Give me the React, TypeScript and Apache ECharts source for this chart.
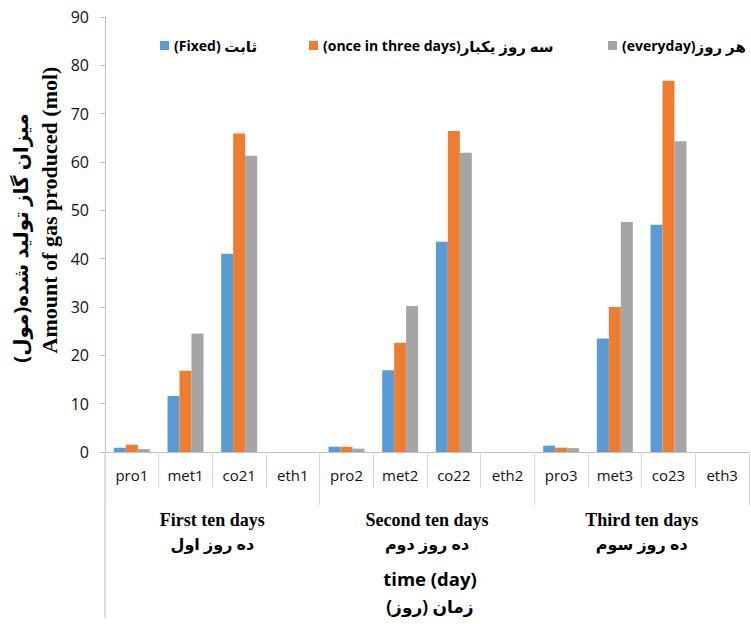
import React, { useEffect, useRef } from "react";
import * as echarts from "echarts";

const categories = ["pro1", "met1", "co21", "eth1", "pro2", "met2", "co22", "eth2", "pro3", "met3", "co23", "eth3"];
const groupLabelsEn = ["First ten days", "Second ten days", "Third ten days"];
const groupLabelsFa = ["ده روز اول", "ده روز دوم", "ده روز سوم"];
const seriesNamesEn = ["(Fixed) ", "(once in three days)", "(everyday)"];
const seriesNamesFa = ["ثابت", "سه روز یکبار", "هر روز"];
const fixedValues = [0.9, 11.6, 41.0, 0, 1.1, 16.9, 43.5, 0, 1.3, 23.5, 47.0, 0];
const onceInThreeDaysValues = [1.5, 16.8, 65.9, 0, 1.1, 22.6, 66.4, 0, 0.9, 30.0, 76.8, 0];
const everydayValues = [0.6, 24.5, 61.3, 0, 0.7, 30.2, 61.9, 0, 0.8, 47.6, 64.3, 0];
const yTicks = { min: 0, max: 90, interval: 10 };

const colors = ["#5B9BD5", "#ED7D31", "#A5A5A5"];
const SANS = "'Open Sans', 'DejaVu Sans', sans-serif";
const SERIF = "'Liberation Serif', 'DejaVu Serif', serif";

export default function App() {
  const ref = useRef<HTMLDivElement>(null);
  useEffect(() => {
    document.body.style.margin = "0";
    if (!ref.current) return;
    const chart = echarts.init(ref.current, undefined, { renderer: "svg" });
    const gridLeft = 105;
    const gridTop = 17;
    const gridBottomY = 452;
    const values = [fixedValues, onceInThreeDaysValues, everydayValues];
    const seriesNames = seriesNamesEn.map((e, i) => e + "|" + seriesNamesFa[i]);
    const legendLefts = [155, 304, 603];
    chart.setOption({
      animation: false,
      backgroundColor: "#ffffff",
      color: colors,
      grid: {
        left: gridLeft,
        top: gridTop,
        right: 2,
        bottom: 624 - gridBottomY,
        outerBoundsMode: "none",
        containLabel: false,
      },
      legend: seriesNames.map((n, i) => ({
        data: [n],
        left: legendLefts[i],
        top: 33,
        icon: "rect",
        itemWidth: 9,
        itemHeight: 9,
        itemGap: 5,
        selectedMode: false,
        formatter: (v: string) => {
          const [en, fa] = v.split("|");
          return "{en|" + en + "}{fa|" + fa + "}";
        },
        textStyle: {
          fontFamily: SANS,
          fontWeight: "bold",
          fontSize: 15,
          color: "#000",
          rich: {
            en: { fontFamily: SANS, fontWeight: "bold", fontSize: 14, color: "#000" },
            fa: { fontFamily: SANS, fontWeight: "bold", fontSize: 15, color: "#000" },
          },
        },
      })),
      xAxis: [
        {
          type: "category",
          data: categories,
          position: "bottom",
          axisLine: { show: true, lineStyle: { color: "#bfbfbf", width: 1 } },
          axisTick: { show: true, interval: 0, length: 36, lineStyle: { color: "#d9d9d9" } },
          axisLabel: { interval: 0, margin: 15, fontFamily: SANS, fontSize: 15, color: "#111" },
          splitLine: { show: false },
        },
        {
          type: "category",
          data: groupLabelsEn.map((e, i) => e + "|" + groupLabelsFa[i]),
          position: "bottom",
          axisLine: { show: false },
          axisTick: { show: true, interval: 0, length: 53, lineStyle: { color: "#d9d9d9" } },
          axisLabel: {
            interval: 0,
            margin: 56,
            formatter: (v: string) => {
              const [en, fa] = v.split("|");
              return "{en|" + en + "}\n{fa|" + fa + "}";
            },
            rich: {
              en: { fontFamily: SERIF, fontWeight: "bold", fontSize: 18, color: "#000", lineHeight: 24 },
              fa: { fontFamily: SANS, fontWeight: "bold", fontSize: 16, color: "#000", lineHeight: 24 },
            },
          },
          splitLine: { show: false },
        },
      ],
      yAxis: {
        type: "value",
        min: yTicks.min,
        max: yTicks.max,
        interval: yTicks.interval,
        axisLine: { show: true, lineStyle: { color: "#bfbfbf" } },
        axisTick: { show: true, length: 5, lineStyle: { color: "#bfbfbf" } },
        axisLabel: { margin: 16, fontFamily: SANS, fontSize: 16, color: "#111" },
        splitLine: { show: false },
      },
      series: seriesNames.map((n, i) => ({
        name: n,
        type: "bar",
        data: values[i],
        xAxisIndex: 0,
        barGap: "0%",
        barCategoryGap: "33%",
        itemStyle: { color: colors[i] },
      })),
      graphic: [
        {
          type: "line",
          shape: { x1: gridLeft, y1: gridBottomY, x2: gridLeft, y2: 618 },
          style: { stroke: "#bfbfbf", lineWidth: 1 },
          silent: true,
        },
        {
          type: "text",
          x: 49,
          y: 210,
          rotation: Math.PI / 2,
          style: {
            text: "Amount of gas produced (mol)",
            font: "bold 22px " + SERIF,
            fill: "#000",
            align: "center",
            verticalAlign: "middle",
          },
        },
        {
          type: "text",
          x: 20,
          y: 238,
          rotation: Math.PI / 2,
          style: {
            text: "میزان گاز تولید شده(مول)",
            font: "bold 20px " + SANS,
            fill: "#000",
            align: "center",
            verticalAlign: "middle",
          },
        },
        {
          type: "text",
          x: 430,
          y: 578,
          style: {
            text: "time (day)",
            font: "bold 18.5px " + SANS,
            fill: "#000",
            align: "center",
            verticalAlign: "middle",
          },
        },
        {
          type: "text",
          x: 430,
          y: 606,
          style: {
            text: "زمان (روز)",
            font: "bold 17px " + SANS,
            fill: "#000",
            align: "center",
            verticalAlign: "middle",
          },
        },
      ],
    });
    return () => chart.dispose();
  }, []);
  return <div ref={ref} style={{ width: 751, height: 624 }} />;
}
